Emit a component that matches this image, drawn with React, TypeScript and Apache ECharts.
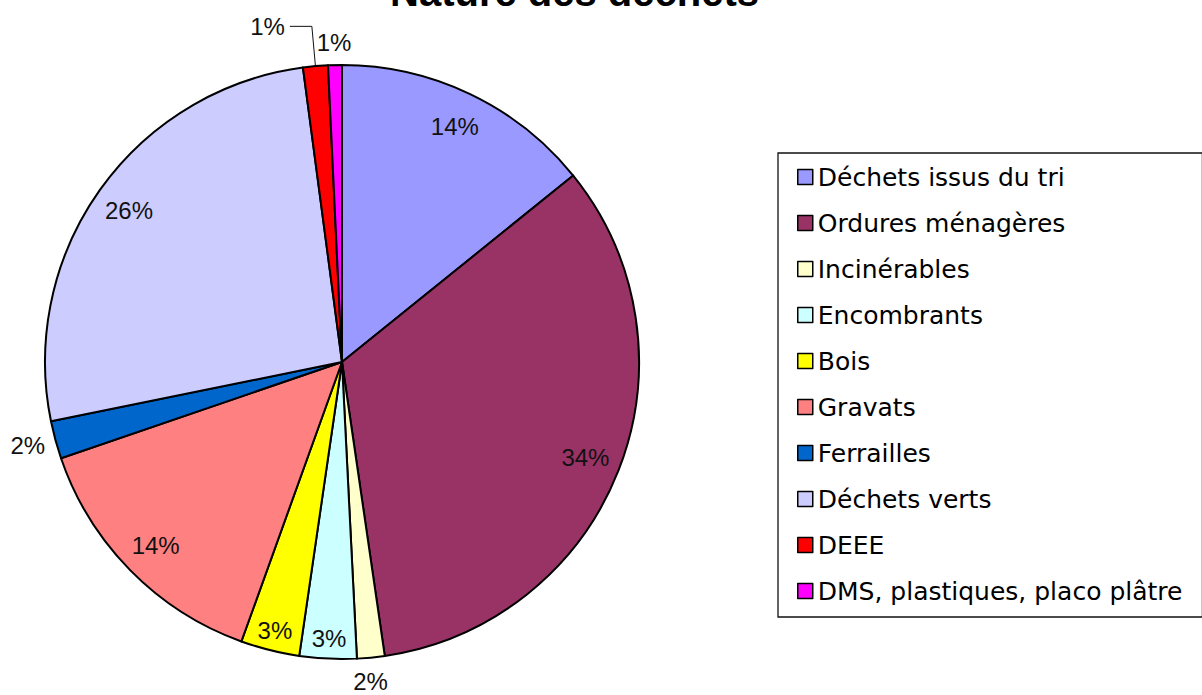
import React, { useEffect, useRef } from "react";
import * as echarts from "echarts";

const titleText = "Nature des déchets";
const categories = [
  "Déchets issus du tri",
  "Ordures ménagères",
  "Incinérables",
  "Encombrants",
  "Bois",
  "Gravats",
  "Ferrailles",
  "Déchets verts",
  "DEEE",
  "DMS, plastiques, placo plâtre",
];
const values = [14.2, 33.5, 1.5, 3.1, 3.2, 14.25, 2.05, 26.1, 1.35, 0.75];
const colors = [
  "#9999FF",
  "#993366",
  "#FFFFCC",
  "#CCFFFF",
  "#FFFF00",
  "#FF8080",
  "#0066CC",
  "#CCCCFF",
  "#FF0000",
  "#FF00FF",
];
// label placement kinds: "a" inside (mid ring), "b" inside near edge, or outside settings
const insideA = [0, 1, 5, 7];
const insideB = [3, 4];
const outsideCfg: Record<number, { len: number; len2: number; dist: number; line: boolean }> = {
  2: { len: 24, len2: 0, dist: -20, line: false },
  6: { len: 20, len2: 0, dist: -9, line: false },
  8: { len: 40, len2: 22, dist: 5, line: true },
  9: { len: 23, len2: 0, dist: -17, line: false },
};

const LABEL_FONT = "Liberation Sans, Arial, sans-serif";

export default function App() {
  const ref = useRef<HTMLDivElement>(null);
  useEffect(() => {
    document.body.style.margin = "0";
    if (!ref.current) return;
    const chart = echarts.init(ref.current, undefined, { renderer: "svg" });
    const R = 297;
    const center = [342, 362];
    const fmt = (p: any) => Math.round(p.percent) + "%";
    const labelBase = {
      fontFamily: LABEL_FONT,
      fontSize: 24,
      color: "#111",
      formatter: fmt,
    };

    const mainData = categories.map((name, i) => ({
      name,
      value: values[i],
      itemStyle: { color: colors[i] },
    }));

    const overlayAData = categories.map((name, i) => ({
      name,
      value: values[i],
      label: { show: insideA.includes(i) },
      labelLine: { show: false },
    }));

    const overlayBData = categories.map((name, i) => {
      const o = outsideCfg[i];
      if (o) {
        return {
          name,
          value: values[i],
          label: {
            show: true,
            position: "outside",
            distanceToLabelLine: o.dist,
          },
          labelLine: {
            show: o.line,
            length: o.len,
            length2: o.len2,
            lineStyle: { color: "#111", width: 1 },
          },
        };
      }
      return {
        name,
        value: values[i],
        label: { show: insideB.includes(i), position: "inside" },
        labelLine: { show: false },
      };
    });

    chart.setOption({
      animation: false,
      backgroundColor: "#ffffff",
      title: {
        text: titleText,
        left: 385,
        top: -33,
        textStyle: {
          fontFamily: LABEL_FONT,
          fontSize: 40,
          lineHeight: 40,
          fontWeight: "bold",
          color: "#000",
        },
      },
      legend: {
        orient: "vertical",
        left: 778,
        top: 153,
        padding: [10, 20, 12, 19],
        itemWidth: 15,
        itemHeight: 15,
        itemGap: 18,
        icon: "rect",
        borderColor: "#111",
        borderWidth: 1.3,
        data: categories,
        itemStyle: { borderColor: "#000", borderWidth: 1.5 },
        textStyle: {
          fontFamily: "DejaVu Sans, sans-serif",
          fontSize: 25,
          lineHeight: 28,
          color: "#000",
        },
      },
      series: [
        {
          type: "pie",
          radius: R,
          center,
          startAngle: 90,
          clockwise: true,
          silent: true,
          avoidLabelOverlap: false,
          label: { show: false },
          labelLine: { show: false },
          itemStyle: { borderColor: "#000", borderWidth: 2 },
          data: mainData,
        },
        {
          type: "pie",
          radius: [220, R],
          center,
          startAngle: 90,
          clockwise: true,
          silent: true,
          avoidLabelOverlap: false,
          itemStyle: { color: "rgba(0,0,0,0)", borderWidth: 0 },
          label: { ...labelBase, position: "inside" },
          labelLine: { show: false },
          data: overlayAData,
        },
        {
          type: "pie",
          radius: [250, R],
          center,
          startAngle: 90,
          clockwise: true,
          silent: true,
          avoidLabelOverlap: false,
          itemStyle: { color: "rgba(0,0,0,0)", borderWidth: 0 },
          label: { ...labelBase, position: "inside" },
          labelLine: { show: false },
          data: overlayBData,
        },
      ],
    });
    return () => chart.dispose();
  }, []);
  return <div ref={ref} style={{ width: 1202, height: 695 }} />;
}
